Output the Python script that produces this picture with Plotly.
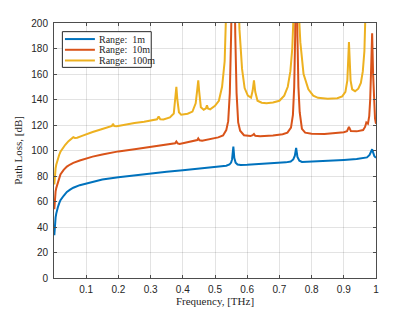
import plotly.graph_objects as go

# ---------------- data ----------------
freq_1m = [0.001,0.002,0.003,0.005,0.007,0.009,0.012,0.016,0.02,0.03,0.04,0.05,0.06,0.08,0.1,
           0.12,0.15,0.2,0.25,0.3,0.35,0.4,0.45,0.5,0.52,0.535,0.545,0.55,0.553,0.557,0.56,0.564,
           0.57,0.58,0.6,0.65,0.7,0.72,0.735,0.743,0.748,0.752,0.756,0.762,0.77,0.8,0.85,0.9,
           0.94,0.96,0.972,0.98,0.985,0.988,0.991,0.995,1.0]
loss_1m = [33.5,39.5,43,47.5,50.5,53,55.5,58.5,61,64.5,67.5,69.3,70.8,72.8,74.2,
           75.6,77.2,79,80.6,82,83.4,84.6,85.7,86.7,87.3,88,89,90.5,93,103,94,90.5,
           89,88.6,88.8,89.4,90.2,90.7,91.4,93,96,102,95,92,91,91.3,91.8,92.6,
           93.3,93.8,94.6,96.5,99,101,98.5,95.5,94.3]

freq_10m = [0.001,0.002,0.003,0.005,0.007,0.009,0.012,0.016,0.02,0.03,0.04,0.05,0.06,0.08,0.1,
            0.12,0.15,0.183,0.2,0.25,0.3,0.34,0.37,0.376,0.38,0.384,0.39,0.42,0.44,0.445,0.448,
            0.452,0.46,0.475,0.49,0.51,0.525,0.535,0.541,0.546,0.55,0.557,0.563,0.567,0.572,
            0.578,0.59,0.61,0.617,0.621,0.625,0.64,0.68,0.71,0.725,0.736,0.742,0.746,0.749,
            0.752,0.756,0.759,0.763,0.77,0.78,0.8,0.84,0.88,0.9,0.91,0.916,0.922,0.94,0.96,
            0.966,0.97,0.975,0.979,0.982,0.985,0.988,0.991,0.994,0.997,1.0]
loss_10m = [54,60,63.5,68,70.5,72.5,75.5,78.8,81.3,84.8,87.4,89,90.3,92.2,93.8,
            95.2,96.9,98.5,99.3,101,102.8,104,104.9,105.6,107,105.6,105.1,106.6,107.4,108.2,109.5,
            108,107.6,108.4,109.2,110.3,111.8,116,123,145,190,300,190,145,122,
            115.5,112,111.3,112,113,111.6,111.2,111.8,112.8,114,118,128,150,190,
            300,190,150,130,117,114,113.2,113,113.6,114.4,115.2,118.5,115.2,115,116,
            118.5,122,121,127,140,165,192,160,135,125,121]

freq_100m = [0.001,0.002,0.003,0.005,0.007,0.009,0.012,0.016,0.02,0.027,0.035,0.045,0.055,0.06,
             0.065,0.072,0.085,0.1,0.12,0.145,0.17,0.18,0.183,0.187,0.195,0.22,0.25,0.28,0.31,
             0.32,0.325,0.33,0.34,0.36,0.372,0.377,0.38,0.383,0.388,0.395,0.415,0.43,0.44,0.445,
             0.448,0.451,0.456,0.465,0.472,0.475,0.478,0.485,0.5,0.512,0.522,0.53,0.537,0.545,
             0.557,0.568,0.576,0.584,0.592,0.602,0.612,0.617,0.621,0.625,0.632,0.645,0.66,0.68,
             0.7,0.715,0.726,0.734,0.74,0.746,0.752,0.758,0.765,0.775,0.79,0.805,0.82,0.85,0.88,
             0.895,0.905,0.911,0.916,0.921,0.926,0.935,0.945,0.953,0.959,0.964,0.97,0.98,0.988,
             0.995,1.0]
loss_100m = [73.4,78.5,82,86,88.8,91,93.8,96.5,99,101.8,104.5,107.3,109.3,110.4,
             109.9,110,111.3,112.8,114.5,116.5,118,119.2,120.9,119.2,119,120.3,121.5,122.5,123.6,
             124.5,126.7,124.5,124.3,126,129,140,150,140,130,128,128.8,130.5,137,148,
             155,146,134,132,133,135.4,133,132.3,135,139,150,170,205,260,
             400,260,195,164,149,143,141.5,147,155,146,139,137.5,137,137.6,
             139,143,150,162,180,220,400,220,185,160,148,143,141.3,140.5,141,
             142.5,146,155,185,155,148,146.5,148.5,153,162,178,205,260,400,
             300,260]

series_names = ["Range:\u00a0\u00a01m", "Range:\u00a0\u00a010m", "Range:\u00a0\u00a0100m"]
series_colors = ["#0072BD", "#D95319", "#EDB120"]

x_tick_vals = [0.1, 0.2, 0.3, 0.4, 0.5, 0.6, 0.7, 0.8, 0.9, 1.0]
x_tick_text = ["0.1", "0.2", "0.3", "0.4", "0.5", "0.6", "0.7", "0.8", "0.9", "1"]
y_tick_vals = [0, 20, 40, 60, 80, 100, 120, 140, 160, 180, 200]

# ---------------- figure ----------------
fig = go.Figure()
for fx, ly, name, col in zip([freq_1m, freq_10m, freq_100m],
                             [loss_1m, loss_10m, loss_100m],
                             series_names, series_colors):
    fig.add_trace(go.Scatter(x=fx, y=ly, mode="lines", name=name, showlegend=False,
                             line=dict(color=col, width=2)))

axis_col = "#4d4d4d"
grid_col = "rgba(38,38,38,0.13)"
tick_font = dict(family="Liberation Sans, Arial, sans-serif", size=10, color="#262626")
serif = "Liberation Serif, DejaVu Serif, serif"
title_font = dict(family=serif, size=11, color="#262626")

# compact legend box (drawn in paper coordinates, like MATLAB's legend)
leg_x0, leg_x1, leg_y0, leg_y1 = 0.026, 0.302, 0.826, 0.966
leg_rows = [0.937, 0.895, 0.853]
shapes = [dict(type="rect", xref="paper", yref="paper", x0=leg_x0, x1=leg_x1, y0=leg_y0, y1=leg_y1,
               line=dict(color="#262626", width=1), fillcolor="white", layer="above")]
annotations = []
for yr, name, col in zip(leg_rows, series_names, series_colors):
    shapes.append(dict(type="line", xref="paper", yref="paper", x0=0.034, x1=0.127, y0=yr, y1=yr,
                       line=dict(color=col, width=2), layer="above"))
    annotations.append(dict(xref="paper", yref="paper", x=0.132, y=yr, xanchor="left", yanchor="middle",
                            text=name, showarrow=False,
                            font=dict(family=serif, size=10, color="#262626")))

fig.update_layout(
    width=415, height=312,
    margin=dict(l=54, r=39, t=23, b=34),
    paper_bgcolor="white", plot_bgcolor="white",
    showlegend=False,
    shapes=shapes, annotations=annotations,
    xaxis=dict(range=[0, 1], tickvals=x_tick_vals, ticktext=x_tick_text, automargin=False,
               showgrid=True, gridcolor=grid_col, gridwidth=1,
               showline=True, linecolor=axis_col, linewidth=1, mirror="ticks",
               ticks="inside", ticklen=3, tickcolor=axis_col, ticklabelstandoff=2,
               tickfont=tick_font, zeroline=False,
               title=dict(text="Frequency, [THz]", font=title_font, standoff=3)),
    yaxis=dict(range=[0, 200], tickvals=y_tick_vals, automargin=False,
               showgrid=True, gridcolor=grid_col, gridwidth=1,
               showline=True, linecolor=axis_col, linewidth=1, mirror="ticks",
               ticks="inside", ticklen=3, tickcolor=axis_col, ticklabelstandoff=3,
               tickfont=tick_font, zeroline=False,
               title=dict(text="Path Loss, [dB]", font=title_font, standoff=6)),
)

# remove the page's default 8px body margin so the figure sits at the top-left corner
fig.write_html("out.html", config={"displayModeBar": False},
               post_script="document.body.style.margin='0px';")
